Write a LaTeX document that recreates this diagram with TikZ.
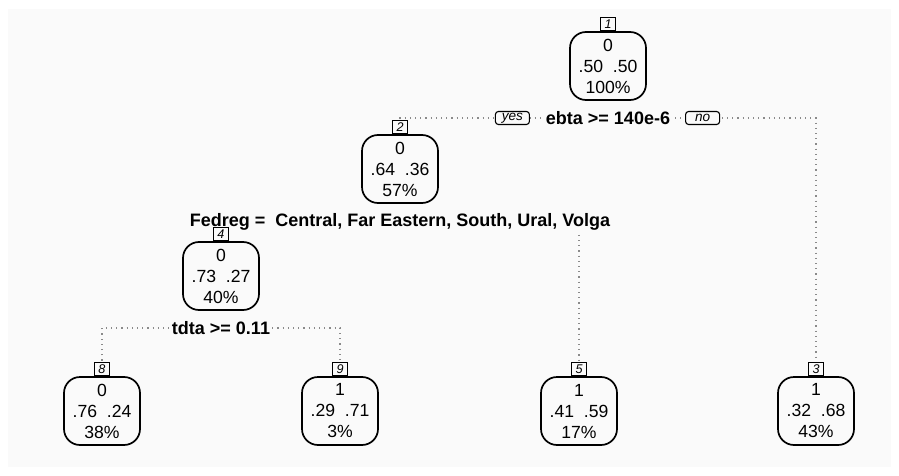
\documentclass[tikz,border=0pt]{standalone}
\usepackage{fontspec}
\setmainfont{Liberation Sans}
\usetikzlibrary{positioning}
\definecolor{panelbg}{HTML}{FAFAFA}
\definecolor{edgegray}{HTML}{8A8A8A}
\tikzstyle{tree node} = [rectangle, draw, line width=.85pt, rounded corners=8pt,
    minimum width=38pt, minimum height=34pt, inner sep=0pt, align=center,
    fill=panelbg, font=\fontsize{8.8}{10.5}\selectfont]
\tikzstyle{tag} = [rectangle, draw, line width=.55pt, minimum width=7.5pt,
    minimum height=6.5pt, inner sep=0pt, fill=panelbg,
    font=\fontsize{6.3}{6.5}\selectfont\itshape]
\tikzstyle{split} = [fill=panelbg, inner sep=.8pt,
    font=\fontsize{9}{10}\selectfont\bfseries]
\tikzstyle{yesno} = [rectangle, draw, line width=.55pt, rounded corners=1.5pt,
    minimum width=17pt, minimum height=6.5pt, inner sep=0pt, fill=panelbg,
    font=\fontsize{6.8}{7}\selectfont\itshape]
\tikzstyle{edge} = [draw, edgegray, dotted, line width=.6pt]

\begin{document}
\begin{tikzpicture}[x=.5pt, y=-.5pt]
\useasboundingbox (0,0) rectangle (899,476);
\fill [panelbg] (8,9) rectangle (891,467);

% Place nodes
\node [tree node] (n1) at (608,66) {0\\.50\ \ .50\\100\%};
\node [tree node] (n2) at (400,169) {0\\.64\ \ .36\\57\%};
\node [tree node] (n4) at (221,276) {0\\.73\ \ .27\\40\%};
\node [tree node] (n8) at (102,411) {0\\.76\ \ .24\\38\%};
\node [tree node] (n9) at (340,411) {1\\.29\ \ .71\\3\%};
\node [tree node] (n5) at (579,411) {1\\.41\ \ .59\\17\%};
\node [tree node] (n3) at (816,411) {1\\.32\ \ .68\\43\%};

\coordinate (s1) at (608,118);
\coordinate (s2) at (400,222);
\coordinate (s4) at (221,328);

% Draw edges
\path [edge] (n2.north) |- (s1) -| (n3.north);
\path [edge] (n4.north) |- (s2) -| (n5.north);
\path [edge] (n8.north) |- (s4) -| (n9.north);

% Split labels
\node [split] (l1) at (s1) {ebta >= 140e-6};
\node [yesno, left=7pt of l1] (yes1) {yes};
\node [yesno, right=6.5pt of l1] (no1) {no};
\node [split] (l2) at (s2) {Fedreg =\ \ Central, Far Eastern, South, Ural, Volga};
\node [split] (l4) at (s4) {tdta >= 0.11};

% Node numbers
\node [tag, above=0pt of n1] (t1) {1};
\node [tag, above=0pt of n2] (t2) {2};
\node [tag, above=0pt of n4] (t4) {4};
\node [tag, above=0pt of n8] (t8) {8};
\node [tag, above=0pt of n9] (t9) {9};
\node [tag, above=0pt of n5] (t5) {5};
\node [tag, above=0pt of n3] (t3) {3};

\end{tikzpicture}
\end{document}
